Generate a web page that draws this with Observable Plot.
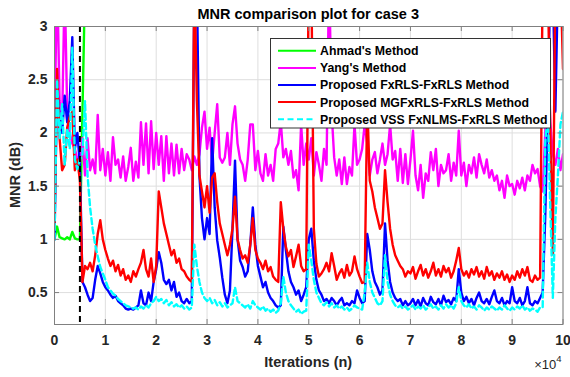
<!DOCTYPE html>
<html>
<head>
<meta charset="utf-8">
<script src="https://cdn.jsdelivr.net/npm/d3@7"></script>
<script src="https://cdn.jsdelivr.net/npm/@observablehq/plot@0.6"></script>
<style>
  html, body { margin: 0; padding: 0; background: #fff; }
  #chart { width: 570px; height: 377px; }
  #chart svg { display: block; }
</style>
</head>
<body>
<div id="chart"></div>
<script>
// MNR (dB) sampled every 500 iterations, case 3
const sampleStep = 500;

const ahmad = [1.0, 1.12, 1.02, 1.01, 1.0, 1.02, 1.0, 1.07, 1.01, 1.0, 1.0, 2.2, 3.4];

const yang = [
  2.0, 3.5, 2.3, 2.1, 3.4, 2.2, 2.0, 1.9, 1.85, 1.75,
  1.7, 1.95, 1.6, 1.95, 1.65, 1.75, 1.62, 2.17, 1.65, 1.85,
  1.6, 1.82, 1.55, 1.96, 1.7, 1.75, 1.58, 1.78, 1.55, 1.68,
  1.86, 1.55, 1.73, 1.58, 2.1, 1.7, 2.09, 1.62, 2.11, 1.66,
  2.0, 1.7, 1.97, 1.55, 1.97, 1.62, 1.9, 1.6, 1.89, 1.62,
  1.85, 1.65, 1.8, 1.75, 1.65, 1.78, 1.7, 1.8, 2.05, 2.2,
  1.85, 2.05, 1.72, 2.0, 2.27, 1.77, 1.72, 1.77, 2.0, 1.7,
  2.08, 2.25, 1.9, 1.75, 1.7, 1.55, 1.75, 2.08, 2.08, 1.65,
  1.83, 1.62, 1.55, 1.8, 1.6, 1.7, 1.55, 1.85, 1.9, 2.11,
  1.77, 1.85, 1.7, 1.83, 1.58, 1.65, 1.46, 2.08, 1.7, 1.9,
  1.75, 1.95, 1.6, 1.82, 1.7, 1.55, 1.85, 1.7, 3.5, 2.2,
  1.77, 1.6, 1.75, 1.52, 1.77, 1.52, 1.68, 1.6, 2.08, 1.7,
  1.75, 1.85, 2.08, 1.9, 1.6, 1.75, 1.82, 1.62, 1.75, 1.9,
  1.7, 1.8, 2.08, 1.75, 1.83, 1.55, 1.85, 1.53, 1.8, 1.52,
  1.75, 2.02, 1.6, 1.46, 1.7, 1.39, 1.62, 1.55, 1.82, 1.65,
  1.85, 1.5, 1.7, 1.62, 1.65, 1.8, 1.55, 1.72, 1.6, 2.02,
  1.6, 1.72, 1.5, 1.7, 1.62, 1.77, 1.58, 1.8, 1.7, 1.62,
  1.75, 1.58, 1.65, 1.55, 1.6, 1.46, 1.55, 1.39, 1.6, 1.5,
  1.52, 1.42, 1.55, 1.48, 1.58, 1.46, 1.6, 1.55, 1.7, 1.62,
  1.66, 1.5, 1.45, 2.0, 2.8, 2.1, 1.8, 1.7, 1.85, 1.65,
  1.8
];

const fxrls = [
  1.0, 2.45, 2.15, 2.0, 2.35, 2.1, 2.3, 2.9, 1.85, 2.0,
  1.7, 0.6, 0.55, 0.48, 0.42, 0.45, 0.62, 0.75, 0.68, 0.6,
  0.55, 0.52, 0.48, 0.45, 0.47, 0.42, 0.4, 0.38, 0.35, 0.34,
  0.35, 0.34, 0.36, 0.38, 0.52, 0.4, 0.38, 0.5, 0.42, 0.6,
  0.72, 0.88, 0.78, 0.62, 0.58, 0.62, 0.52, 0.6, 0.46, 0.5,
  0.42, 0.4, 0.44, 0.4, 0.42, 3.4, 3.4, 1.6, 1.2, 1.0,
  1.2, 1.05, 1.95, 1.3, 0.99, 0.83, 0.64, 0.48, 0.4, 0.52,
  1.1, 1.74, 1.0, 0.8, 0.74, 0.65, 0.7, 0.95, 1.3, 0.95,
  0.75, 0.65, 0.55, 0.6, 0.5, 0.45, 0.42, 0.38, 0.36, 0.38,
  1.12, 0.9, 0.7, 0.6, 0.55, 0.48, 0.52, 0.42, 0.48, 0.55,
  1.0, 1.1, 0.8, 0.62, 0.52, 0.48, 0.42, 0.44, 0.4, 0.45,
  0.42, 0.38, 0.42, 0.45, 0.38, 0.4, 0.38, 0.42, 0.4, 0.52,
  0.45, 0.4, 0.42, 1.05, 0.9, 0.7, 0.6, 0.55, 0.48, 0.52,
  1.15, 0.8, 0.6, 0.5, 0.45, 0.42, 0.44, 0.38, 0.42, 0.38,
  0.4, 0.44, 0.38, 0.43, 0.37, 0.45, 0.4, 0.38, 0.46, 0.41,
  0.39, 0.44, 0.38, 0.47, 0.41, 0.43, 0.39, 0.45, 0.42, 0.72,
  0.5, 0.42, 0.46, 0.4, 0.44, 0.38, 0.45, 0.5, 0.42, 0.4,
  0.44, 0.39, 0.46, 0.52, 0.42, 0.4, 0.45, 0.38, 0.42, 0.4,
  0.55, 0.42, 0.4, 0.45, 0.38, 0.42, 0.55, 0.4, 0.38, 0.42,
  0.4, 0.45, 0.5, 1.2, 2.2, 3.4, 3.4, 2.2, 3.4, 3.4,
  3.4
];

const mgfxrls = [
  1.1, 2.6, 1.95, 1.65, 1.7, 2.05, 2.15, 2.2, 1.65, 1.75,
  1.55, 0.6, 0.75, 0.72, 0.78, 0.7, 0.85, 1.05, 1.18, 1.0,
  0.9, 0.82, 0.75, 0.8, 0.7, 0.76, 0.66, 0.72, 0.62, 0.66,
  0.6, 0.7, 0.65, 0.72, 0.78, 0.9, 0.72, 0.65, 0.82, 0.6,
  0.75, 1.45, 1.3, 1.15, 1.05, 0.95, 0.85, 0.9, 0.78, 0.82,
  0.72, 0.7, 0.65, 0.62, 0.6, 3.5, 2.3, 1.6, 1.45, 1.3,
  1.5, 1.25, 1.58, 1.62, 1.35, 1.15, 1.05, 0.95, 0.85, 0.95,
  1.1, 1.4, 1.0, 0.9, 0.82, 0.85, 0.78, 0.95, 1.2, 0.9,
  0.82, 0.78, 0.72, 0.8, 0.7, 0.74, 0.65, 0.62, 0.6, 1.35,
  1.1, 0.93, 0.84, 0.9, 0.74, 0.84, 0.95, 0.75, 0.7, 0.72,
  3.5, 3.5, 1.1, 0.77, 0.65, 0.68, 0.72, 0.78, 0.7, 0.87,
  0.75, 0.62, 0.68, 0.72, 0.64, 0.76, 0.66, 0.7, 0.84, 0.72,
  0.65, 0.59, 0.6, 2.3, 1.55, 1.45, 1.3, 1.2, 1.1, 1.15,
  1.65, 1.35, 1.1, 0.95, 0.85, 0.8, 0.75, 0.72, 0.65, 0.7,
  0.68, 0.74, 0.63, 0.7, 0.76, 0.66, 0.72, 0.64, 0.7, 0.78,
  0.66, 0.72, 0.65, 0.75, 0.69, 0.73, 0.64, 0.7, 0.8, 0.92,
  0.72, 0.66, 0.7, 0.64, 0.72, 0.67, 0.74, 0.65, 0.7, 0.63,
  0.74, 0.66, 0.7, 0.62, 0.68, 0.64, 0.7, 0.62, 0.67, 0.6,
  0.66, 0.62, 0.7, 0.64, 0.72, 0.66, 0.74, 0.62, 0.6, 0.66,
  0.62, 0.64, 3.5, 3.5, 3.5, 2.0, 0.86, 3.5, 3.5, 3.5,
  2.6
];

const vssFxnlms = [
  1.0, 2.5, 1.95, 2.27, 1.7, 2.04, 1.85, 2.8, 1.75, 1.66,
  1.75, 1.8, 2.3, 1.6, 1.3, 1.1, 0.95, 0.84, 0.74, 0.68,
  0.62, 0.55, 0.52, 0.49, 0.47, 0.44, 0.42, 0.4, 0.38, 0.37,
  0.36, 0.35, 0.36, 0.34, 0.37, 0.35, 0.38, 0.36, 0.4, 0.42,
  0.46, 0.42, 0.44, 0.4, 0.43, 0.38, 0.41, 0.37, 0.39, 0.36,
  0.38, 0.35, 0.37, 0.34, 0.36, 0.95, 0.75, 0.6, 0.5, 0.45,
  0.42, 0.45, 0.4, 0.43, 0.38, 0.41, 0.37, 0.4, 0.36, 0.38,
  0.4, 0.55, 0.42, 0.4, 0.38, 0.36, 0.39, 0.35, 0.42, 0.38,
  0.36, 0.34, 0.37, 0.33, 0.35, 0.32, 0.34, 0.31, 0.33, 0.4,
  0.65, 0.5, 0.42, 0.38, 0.35, 0.32, 0.34, 0.3, 0.32, 0.33,
  0.95, 0.8, 0.62, 0.5, 0.45, 0.4, 0.38, 0.41, 0.37, 0.4,
  0.36, 0.38, 0.35, 0.37, 0.34, 0.36, 0.33, 0.35, 0.38, 0.36,
  0.35, 0.34, 0.5, 0.78, 0.6, 0.5, 0.45, 0.4, 0.38, 0.42,
  0.85, 0.6, 0.48, 0.42, 0.38, 0.36, 0.38, 0.35, 0.37, 0.34,
  0.36, 0.38, 0.34, 0.37, 0.35, 0.38, 0.34, 0.36, 0.39, 0.35,
  0.37, 0.34, 0.38, 0.35, 0.39, 0.36, 0.38, 0.35, 0.4, 0.55,
  0.42, 0.38, 0.36, 0.39, 0.35, 0.37, 0.34, 0.38, 0.36, 0.33,
  0.36, 0.34, 0.37, 0.35, 0.33, 0.36, 0.34, 0.38, 0.35, 0.33,
  0.36, 0.34, 0.37, 0.35, 0.38, 0.34, 0.36, 0.33, 0.35, 0.34,
  0.32, 0.36, 0.36, 1.9, 2.24, 1.3, 0.45, 1.2, 1.6, 2.08,
  2.2
];

// Iteration at which the secondary path changes
const switchIteration = 5000;

const xTicks = [0, 10000, 20000, 30000, 40000, 50000, 60000, 70000, 80000, 90000, 100000];
const xTickLabels = ["0", "1", "2", "3", "4", "5", "6", "7", "8", "9", "10"];
const yTicks = [0.5, 1, 1.5, 2, 2.5, 3];
const yTickLabels = ["0.5", "1", "1.5", "2", "2.5", "3"];

const seriesNames = [
  "Ahmad's Method",
  "Yang's Method",
  "Proposed FxRLS-FxRLS Method",
  "Proposed MGFxRLS-FxRLS Method",
  "Proposed VSS FxNLMS-FxRLS Method"
];
const seriesValues = [ahmad, yang, fxrls, mgfxrls, vssFxnlms];
const seriesColors = ["#00ff00", "#ff00ff", "#0000ff", "#ff0000", "#00ffff"];
const seriesDash = [null, null, null, null, "6,3.5"];

const W = 570, H = 377;
const M = {left: 54, right: 7.5, top: 26, bottom: 53};
const frameW = W - M.left - M.right;
const frameH = H - M.top - M.bottom;
const axisGray = "#808080";
const textDark = "#262626";
const font = "'Liberation Sans', Arial, Helvetica, sans-serif";

const toRows = (name, values) => values.map((v, i) => ({series: name, iteration: i * sampleStep, mnr: v}));

const lineMarks = seriesNames.map((name, k) =>
  Plot.line(toRows(name, seriesValues[k]), {
    x: "iteration", y: "mnr",
    stroke: seriesColors[k], strokeWidth: 2.4,
    strokeDasharray: seriesDash[k],
    strokeLinejoin: "round",
    clip: true
  })
);

const plot = Plot.plot({
  width: W, height: H,
  marginLeft: M.left, marginRight: M.right, marginTop: M.top, marginBottom: M.bottom,
  style: {fontFamily: font, background: "#fff", overflow: "visible"},
  x: {domain: [0, 100000], label: null},
  y: {domain: [0.2, 3], label: null},
  marks: [
    Plot.gridX({ticks: xTicks, stroke: "#dedede", strokeOpacity: 1}),
    Plot.gridY({ticks: yTicks, stroke: "#dedede", strokeOpacity: 1}),
    ...lineMarks,
    Plot.ruleX([switchIteration], {stroke: "#000", strokeWidth: 2, strokeDasharray: "6,4"}),
    Plot.frame({stroke: axisGray, strokeWidth: 1}),
    // inward tick marks on all four sides
    Plot.tickX(xTicks, {x: d => d, insetTop: frameH - 5, stroke: axisGray}),
    Plot.tickX(xTicks, {x: d => d, insetBottom: frameH - 5, stroke: axisGray}),
    Plot.tickY(yTicks, {y: d => d, insetRight: frameW - 5, stroke: axisGray}),
    Plot.tickY(yTicks, {y: d => d, insetLeft: frameW - 5, stroke: axisGray}),
    Plot.axisX({ticks: xTicks, tickSize: 0, tickPadding: 11,
      tickFormat: d => xTickLabels[xTicks.indexOf(d)],
      fontSize: 14, fontWeight: "bold", fill: textDark, label: null}),
    Plot.axisY({ticks: yTicks, tickSize: 0, tickPadding: 7,
      tickFormat: d => yTickLabels[yTicks.indexOf(d)],
      fontSize: 14, fontWeight: "bold", fill: textDark, label: null})
  ]
});

const svg = d3.select(plot);
const cx = M.left + frameW / 2;

// title and axis labels
svg.append("text")
  .attr("x", cx).attr("y", 18.5)
  .attr("text-anchor", "middle")
  .attr("font-family", font).attr("font-size", 14.5).attr("font-weight", "bold")
  .attr("fill", "#000")
  .text("MNR comparison plot for case 3");

svg.append("text")
  .attr("x", cx).attr("y", 367)
  .attr("text-anchor", "middle")
  .attr("font-family", font).attr("font-size", 14.5).attr("font-weight", "bold")
  .attr("fill", textDark)
  .text("Iterations (n)");

svg.append("text")
  .attr("transform", `translate(20,${M.top + frameH / 2}) rotate(-90)`)
  .attr("text-anchor", "middle")
  .attr("font-family", font).attr("font-size", 14.5).attr("font-weight", "bold")
  .attr("fill", textDark)
  .text("MNR (dB)");

// axis exponent
const expo = svg.append("text")
  .attr("x", W - M.right - 1).attr("y", 369)
  .attr("text-anchor", "end")
  .attr("font-family", font).attr("font-size", 13).attr("fill", textDark);
expo.append("tspan").text("\u00d710");
expo.append("tspan").attr("dy", -7).attr("font-size", 9.5).text("4");

// legend box in the upper right
const lg = svg.append("g").attr("transform", "translate(270,38)");
lg.append("rect")
  .attr("x", 0.5).attr("y", 0.5).attr("width", 280).attr("height", 89.5)
  .attr("fill", "#fff").attr("stroke", "#333").attr("stroke-width", 1);
seriesNames.forEach((name, k) => {
  const yy = 12.8 + k * 17.1;
  lg.append("line")
    .attr("x1", 8).attr("x2", 46).attr("y1", yy).attr("y2", yy)
    .attr("stroke", seriesColors[k]).attr("stroke-width", 2)
    .attr("stroke-dasharray", seriesDash[k]);
  lg.append("text")
    .attr("x", 50).attr("y", yy).attr("dy", "0.36em")
    .attr("text-anchor", "start")
    .attr("font-family", font).attr("font-size", 12.3).attr("font-weight", "bold")
    .attr("fill", "#000")
    .text(name);
});

document.getElementById("chart").appendChild(plot);
</script>
</body>
</html>
